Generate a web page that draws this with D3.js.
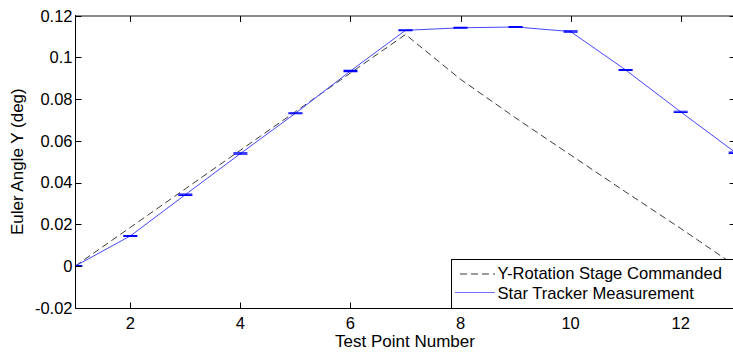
<!DOCTYPE html>
<html>
<head>
<meta charset="utf-8">
<script src="https://cdn.jsdelivr.net/npm/d3@7"></script>
<style>
  html, body { margin: 0; padding: 0; background: #fff; }
  svg { display: block; }
  text { font-family: "Liberation Sans", Arial, sans-serif; fill: #000; }
</style>
</head>
<body>
<script>
// ---- data ----
const testPoints = [1, 2, 3, 4, 5, 6, 7, 8, 9, 10, 11, 12, 13];
const commanded  = [0, 0.0185, 0.037, 0.0555, 0.074, 0.0925, 0.111, 0.0895, 0.071, 0.0532, 0.0355, 0.018, 0];
const measured   = [0, 0.0144, 0.0342, 0.0539, 0.0732, 0.0935, 0.1130, 0.1142, 0.1146, 0.1124, 0.0940, 0.0739, 0.0543];
const measErr    = [0.0002, 0.0002, 0.0003, 0.0003, 0.0002, 0.0003, 0.0002, 0.0002, 0.0002, 0.0003, 0.0002, 0.0003, 0.0003];
const xTicks = [2, 4, 6, 8, 10, 12];
const yTicks = [-0.02, 0, 0.02, 0.04, 0.06, 0.08, 0.1, 0.12];
const seriesNames = ["Y-Rotation Stage Commanded", "Star Tracker Measurement"];
const xLabel = "Test Point Number";
const yLabel = "Euler Angle Y (deg)";

(function () {
const W = 733, H = 354;
const pL = 75.3, pR = 735.7, pT = 15.7, pB = 307.7;

const svg = d3.select("body").append("svg").attr("width", W).attr("height", H);
svg.append("rect").attr("width", W).attr("height", H).attr("fill", "#fff");

const x = d3.scaleLinear().domain([1, 13]).range([pL, pR]);
const y = d3.scaleLinear().domain([-0.02, 0.12]).range([pB, pT]);

svg.append("defs").append("clipPath").attr("id", "plotclip")
  .append("rect").attr("x", pL).attr("y", pT).attr("width", pR - pL).attr("height", pB - pT);

const plot = svg.append("g").attr("clip-path", "url(#plotclip)");

// commanded dashed line
plot.append("path")
  .datum(testPoints.map((t, i) => [t, commanded[i]]))
  .attr("fill", "none").attr("stroke", "#222").attr("stroke-width", 0.9)
  .attr("stroke-dasharray", "7,4")
  .attr("d", d3.line().x(d => x(d[0])).y(d => y(d[1])));

// measured line
plot.append("path")
  .datum(testPoints.map((t, i) => [t, measured[i]]))
  .attr("fill", "none").attr("stroke", "#4646ff").attr("stroke-width", 1)
  .attr("d", d3.line().x(d => x(d[0])).y(d => y(d[1])));

// error bars
const eb = plot.append("g").attr("stroke", "#0000ff").attr("stroke-width", 1.2);
testPoints.forEach((t, i) => {
  const cx = x(t);
  const y1 = y(measured[i] + measErr[i]), y2 = y(measured[i] - measErr[i]);
  eb.append("line").attr("x1", cx).attr("x2", cx).attr("y1", y1).attr("y2", y2);
  eb.append("line").attr("x1", cx - 7).attr("x2", cx + 7).attr("y1", y1).attr("y2", y1);
  eb.append("line").attr("x1", cx - 7).attr("x2", cx + 7).attr("y1", y2).attr("y2", y2);
});

// axes box
const axG = svg.append("g");
const L = Math.round(pL) + 0.5, B = Math.round(pB) + 0.5, T = Math.round(pT), R = pR;
axG.append("line").attr("x1", L).attr("x2", W).attr("y1", T).attr("y2", T)
  .attr("stroke", "#8a8a8a").attr("stroke-width", 2);
axG.append("line").attr("x1", L).attr("x2", L).attr("y1", T - 1).attr("y2", B)
  .attr("stroke", "#000").attr("stroke-width", 1);
axG.append("line").attr("x1", L).attr("x2", W).attr("y1", B).attr("y2", B)
  .attr("stroke", "#000").attr("stroke-width", 1);

// ticks
xTicks.forEach(t => {
  const px = Math.round(x(t)) + 0.5;
  axG.append("line").attr("x1", px).attr("x2", px).attr("y1", B).attr("y2", B - 6).attr("stroke", "#000");
  axG.append("line").attr("x1", px).attr("x2", px).attr("y1", T).attr("y2", T + 6).attr("stroke", "#000");
  svg.append("text").attr("x", x(t)).attr("y", 328.5).attr("text-anchor", "middle")
    .attr("font-size", 16.5).text(t);
});
yTicks.forEach(v => {
  const py = Math.round(y(v)) + 0.5;
  axG.append("line").attr("x1", L).attr("x2", L + 6).attr("y1", py).attr("y2", py).attr("stroke", "#000");
  axG.append("line").attr("x1", R).attr("x2", R - 6).attr("y1", py).attr("y2", py).attr("stroke", "#000");
  svg.append("text").attr("x", 72.5).attr("y", y(v) + 5.9).attr("text-anchor", "end")
    .attr("font-size", 16.5).text(v === 0 ? "0" : String(+v.toFixed(2)));
});

// labels
svg.append("text").attr("x", 405).attr("y", 346.5).attr("text-anchor", "middle")
  .attr("font-size", 17).text(xLabel);
svg.append("text").attr("transform", "translate(23," + ((pT + pB) / 2) + ") rotate(-90)")
  .attr("text-anchor", "middle").attr("font-size", 17).text(yLabel);

// legend
const lg = svg.append("g");
lg.append("rect").attr("x", 451.5).attr("y", 259.5).attr("width", 300).attr("height", B - 259.5)
  .attr("fill", "#fff").attr("stroke", "#000").attr("stroke-width", 1);
lg.append("line").attr("x1", 460).attr("x2", 495).attr("y1", 274).attr("y2", 274)
  .attr("stroke", "#222").attr("stroke-width", 0.9).attr("stroke-dasharray", "7,4");
lg.append("line").attr("x1", 455).attr("x2", 495).attr("y1", 292.5).attr("y2", 292.5)
  .attr("stroke", "#7070ff").attr("stroke-width", 1);
lg.append("text").attr("x", 497.5).attr("y", 278.8).attr("font-size", 16.6).text(seriesNames[0]);
lg.append("text").attr("x", 497.5).attr("y", 298.8).attr("font-size", 16.6).text(seriesNames[1]);
})();
</script>
</body>
</html>
